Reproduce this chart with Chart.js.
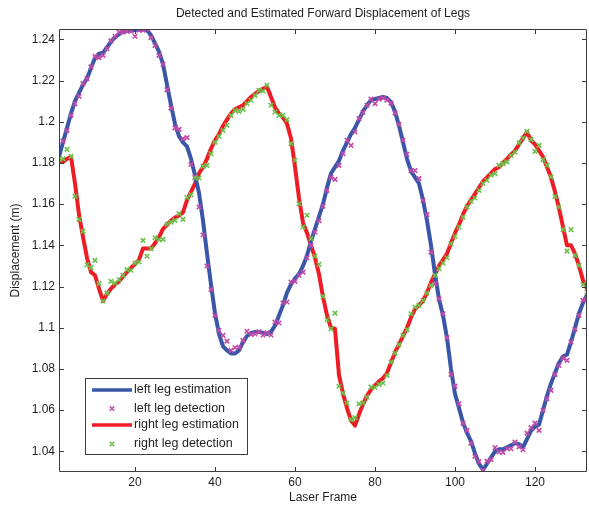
<!DOCTYPE html>
<html>
<head>
<meta charset="utf-8">
<script src="https://cdn.jsdelivr.net/npm/chart.js@4.4.1/dist/chart.umd.min.js"></script>
<style>
  html, body { margin: 0; padding: 0; background: #ffffff; }
  #wrap { width: 589px; height: 506px; }
</style>
</head>
<body>
<div id="wrap"><canvas id="c" width="589" height="506"></canvas></div>
<script>
// ---- data (frame index 1..133) ----
const chartTitle = "Detected and Estimated Forward Displacement of Legs";
const xTitle = "Laser Frame";
const yTitle = "Displacement (m)";
const seriesNames = ["left leg estimation", "left leg detection", "right leg estimation", "right leg detection"];
const xTicks = [20, 40, 60, 80, 100, 120];
const yTicks = [1.04, 1.06, 1.08, 1.1, 1.12, 1.14, 1.16, 1.18, 1.2, 1.22, 1.24];
const firstFrame = 1;

const leftEstimation = [
  1.183,1.190,1.197,1.204,1.210,1.214,1.218,1.221,1.226,1.231,
  1.233,1.2335,1.236,1.239,1.241,1.2425,1.2435,1.244,1.2442,1.2445,
  1.2447,1.2448,1.2445,1.242,1.238,1.234,1.228,1.218,1.208,1.199,
  1.193,1.190,1.188,1.182,1.174,1.1655,1.152,1.136,1.121,1.107,
  1.097,1.091,1.089,1.0875,1.0875,1.089,1.093,1.096,1.0975,1.098,
  1.098,1.0975,1.097,1.098,1.101,1.106,1.111,1.117,1.121,1.124,
  1.126,1.130,1.135,1.142,1.148,1.154,1.160,1.168,1.175,1.178,
  1.181,1.186,1.190,1.194,1.197,1.201,1.205,1.208,1.2105,1.211,
  1.2115,1.212,1.2115,1.2095,1.205,1.198,1.190,1.182,1.176,1.173,
  1.170,1.162,1.152,1.140,1.126,1.114,1.106,1.095,1.080,1.068,
  1.061,1.054,1.049,1.045,1.039,1.034,1.031,1.034,1.037,1.040,
  1.041,1.041,1.042,1.043,1.044,1.0435,1.042,1.046,1.050,1.052,
  1.053,1.060,1.067,1.073,1.078,1.083,1.086,1.087,1.093,1.100,
  1.107,1.112,1.116
];

const leftDetection = [
  null,1.1906,1.1958,1.2031,1.2088,1.2123,1.2185,1.2209,1.2266,1.2317,
  1.2311,1.2322,1.2355,1.2392,1.2415,1.2435,1.2435,1.244,1.244,1.2415,
  1.2444,1.2444,1.245,1.2408,1.237,1.2322,1.2279,1.2156,1.2066,1.197,
  1.1963,1.1918,1.1923,1.1793,1.1732,1.1586,1.145,1.130,1.1185,1.106,
  1.0987,1.0963,1.0935,1.089,1.0903,1.0906,1.0939,1.0983,1.0968,1.097,
  1.098,1.0965,1.0975,1.0965,1.1028,1.1023,1.112,1.1125,1.1222,1.1225,
  1.1254,1.127,1.134,1.140,1.1465,1.152,1.159,1.1667,1.173,1.172,
  1.1788,1.1845,1.191,1.1885,1.195,1.2015,1.2045,1.208,1.211,1.2088,
  1.211,1.2115,1.2105,1.209,1.2043,1.1987,1.191,1.1842,1.1763,1.1763,
  1.1724,1.1618,1.1549,1.1367,1.1214,1.114,1.1068,1.0952,1.0774,1.0717,
  1.0631,1.0537,1.0502,1.044,1.0376,1.0351,1.0308,1.0353,1.036,1.0418,
  1.0397,1.0395,1.0413,1.0413,1.0445,1.0422,1.0408,1.0489,1.0515,1.0537,
  1.0502,1.0599,1.0656,1.0696,1.0774,1.0817,1.0853,1.0842,1.0931,1.0992,
  1.106,1.1133,1.1141
];

const rightEstimation = [
  1.181,1.1805,1.182,1.183,1.170,1.155,1.144,1.134,1.127,1.1255,
  1.119,1.113,1.1165,1.119,1.121,1.1225,1.125,1.127,1.129,1.131,
  1.133,1.1385,1.1385,1.1385,1.141,1.144,1.148,1.150,1.152,1.1535,
  1.1545,1.156,1.162,1.166,1.170,1.175,1.178,1.182,1.187,1.191,
  1.194,1.198,1.201,1.204,1.206,1.207,1.208,1.210,1.212,1.2135,
  1.215,1.216,1.217,1.212,1.207,1.204,1.202,1.199,1.192,1.178,
  1.163,1.151,1.146,1.140,1.134,1.126,1.115,1.106,1.100,1.0995,
  1.077,1.068,1.061,1.055,1.0525,1.058,1.063,1.067,1.070,1.072,
  1.074,1.0755,1.078,1.083,1.088,1.092,1.096,1.100,1.105,1.109,
  1.111,1.113,1.117,1.122,1.126,1.130,1.133,1.136,1.141,1.146,
  1.150,1.155,1.159,1.162,1.165,1.168,1.171,1.173,1.175,1.177,
  1.178,1.180,1.182,1.184,1.186,1.189,1.192,1.195,1.191,1.189,
  1.186,1.183,1.178,1.173,1.166,1.158,1.149,1.140,1.140,1.136,
  1.130,1.123,1.119
];

const rightDetection = [
  1.1817,1.182,1.1866,1.1832,1.1638,1.1526,1.1468,1.1306,1.1292,1.1327,
  1.1214,1.113,1.1168,1.1225,1.1217,1.1233,1.1254,1.1282,1.1279,1.1314,
  1.1319,1.1424,1.1347,1.1384,1.1437,1.1428,1.1429,1.1502,1.1513,1.1521,
  1.1554,1.1526,1.1632,1.1646,1.1727,1.1727,1.1783,1.1788,1.1845,1.1901,
  1.1929,1.1958,1.1983,1.2031,1.2055,1.205,1.206,1.2088,1.2104,1.2128,
  1.2152,1.2149,1.2177,1.208,1.2047,1.2031,1.2031,1.201,1.1894,1.1813,
  1.1602,1.1489,1.1546,1.1433,1.1347,1.1308,1.1152,1.1039,1.0995,1.1071,
  1.0716,1.0683,1.0635,1.0554,1.0564,1.0631,1.0635,1.0664,1.0712,1.071,
  1.0725,1.0732,1.0769,1.0833,1.0877,1.0918,1.0963,1.0991,1.1068,1.1101,
  1.1109,1.1133,1.1168,1.1206,1.1254,1.1287,1.1314,1.134,1.1408,1.1444,
  1.1489,1.1537,1.1586,1.1614,1.163,1.1667,1.17,1.1716,1.174,1.1748,
  1.1789,1.1797,1.1805,1.1837,1.1853,1.1897,1.1921,1.1953,1.1913,1.1856,
  1.1885,1.1816,1.1789,1.1732,1.1638,1.1586,1.1476,1.1372,1.1476,1.1351,
  1.1303,1.121,1.1173
];

// ---- styling ----
const FONT = "'Liberation Sans', Arial, Helvetica, sans-serif";
const BLUE = "#3a56a9";
const RED = "#ee1c25";
const PINK = "#c24aa9";
const GREEN = "#6cc24a";
const AXIS = "#3c3c3c";
const TEXT = "#1e1e1e";

const toPts = arr => arr.map((v, i) => ({ x: firstFrame + i, y: v })).filter(p => p.y !== null);

const axisBox = {
  id: 'axisBox',
  afterDatasetsDraw(chart) {
    const { ctx, chartArea: a, scales } = chart;
    ctx.save();
    ctx.strokeStyle = AXIS;
    ctx.lineWidth = 1;
    ctx.beginPath();
    ctx.rect(Math.round(a.left) + 0.5, Math.round(a.top) + 0.5,
             Math.round(a.right - a.left) - 1, Math.round(a.bottom - a.top) - 1);
    ctx.stroke();
    const tl = 5;
    ctx.beginPath();
    xTicks.forEach(v => {
      const px = Math.round(scales.x.getPixelForValue(v)) + 0.5;
      ctx.moveTo(px, a.bottom); ctx.lineTo(px, a.bottom - tl);
      ctx.moveTo(px, a.top); ctx.lineTo(px, a.top + tl);
    });
    yTicks.forEach(v => {
      const py = Math.round(scales.y.getPixelForValue(v)) + 0.5;
      ctx.moveTo(a.left, py); ctx.lineTo(a.left + tl, py);
      ctx.moveTo(a.right, py); ctx.lineTo(a.right - tl, py);
    });
    ctx.stroke();
    ctx.restore();
  },
  afterDraw(chart) {
    const { ctx, chartArea: a } = chart;
    ctx.save();
    // title
    ctx.fillStyle = TEXT;
    ctx.font = "12px " + FONT;
    ctx.textAlign = 'center';
    ctx.textBaseline = 'middle';
    ctx.fillText(chartTitle, (a.left + a.right) / 2, 14);
    // legend
    const bx = 85.5, by = 378.5, bw = 162, bh = 76;
    ctx.fillStyle = '#ffffff';
    ctx.fillRect(bx, by, bw, bh);
    ctx.strokeStyle = AXIS;
    ctx.lineWidth = 1;
    ctx.strokeRect(bx, by, bw, bh);
    const rows = [390, 408.5, 425, 444];
    const kinds = [
      { type: 'line', color: BLUE }, { type: 'mark', color: PINK },
      { type: 'line', color: RED }, { type: 'mark', color: GREEN }
    ];
    kinds.forEach((k, i) => {
      const y = rows[i];
      if (k.type === 'line') {
        ctx.strokeStyle = k.color;
        ctx.lineWidth = 3.5;
        ctx.beginPath(); ctx.moveTo(92, y); ctx.lineTo(132, y); ctx.stroke();
      } else {
        ctx.strokeStyle = k.color;
        ctx.lineWidth = 1.6;
        const r = 2.2;
        ctx.beginPath();
        ctx.moveTo(112 - r, y - r); ctx.lineTo(112 + r, y + r);
        ctx.moveTo(112 - r, y + r); ctx.lineTo(112 + r, y - r);
        ctx.stroke();
      }
      ctx.fillStyle = TEXT;
      ctx.font = "12.5px " + FONT;
      ctx.textAlign = 'left';
      ctx.textBaseline = 'middle';
      ctx.fillText(seriesNames[i], 134, y);
    });
    ctx.restore();
  }
};

const fmt = v => String(Number(v.toFixed(2)));

new Chart(document.getElementById('c'), {
  type: 'line',
  data: {
    datasets: [
      { label: seriesNames[1], data: toPts(leftDetection), showLine: false,
        pointStyle: 'crossRot', pointRadius: 3.2, pointBorderWidth: 1.6,
        pointBorderColor: PINK, pointBackgroundColor: PINK, borderColor: PINK, order: 1 },
      { label: seriesNames[3], data: toPts(rightDetection), showLine: false,
        pointStyle: 'crossRot', pointRadius: 3.2, pointBorderWidth: 1.6,
        pointBorderColor: GREEN, pointBackgroundColor: GREEN, borderColor: GREEN, order: 0 },
      { label: seriesNames[0], data: toPts(leftEstimation), borderColor: BLUE,
        borderWidth: 4, pointRadius: 0, tension: 0, fill: false, order: 2 },
      { label: seriesNames[2], data: toPts(rightEstimation), borderColor: RED,
        borderWidth: 4, pointRadius: 0, tension: 0, fill: false, order: 3 }
    ]
  },
  options: {
    responsive: false,
    animation: false,
    devicePixelRatio: 1,
    layout: { autoPadding: false, padding: { left: 0, right: 2, top: 29, bottom: 0 } },
    plugins: { legend: { display: false }, title: { display: false }, tooltip: { enabled: false } },
    elements: { line: { borderJoinStyle: 'round', borderCapStyle: 'round' } },
    scales: {
      x: {
        type: 'linear', min: 1, max: 133,
        afterBuildTicks: s => { s.ticks = xTicks.map(v => ({ value: v })); },
        afterFit: s => { s.height = 34; s.paddingLeft = 0; s.paddingRight = 0; },
        grid: { display: false, drawTicks: false },
        border: { display: false },
        ticks: { padding: 3, color: TEXT, font: { family: FONT, size: 12 }, maxRotation: 0, autoSkip: false,
                 callback: v => String(v) },
        title: { display: true, text: xTitle, color: TEXT, font: { family: FONT, size: 12 },
                 padding: { top: 0, bottom: 1 } }
      },
      y: {
        type: 'linear', min: 1.03, max: 1.245,
        afterBuildTicks: s => { s.ticks = yTicks.map(v => ({ value: v })); },
        afterFit: s => { s.width = 59; s.paddingTop = 0; s.paddingBottom = 0; },
        grid: { display: false, drawTicks: false },
        border: { display: false },
        ticks: { padding: 4, color: TEXT, font: { family: FONT, size: 12 }, autoSkip: false,
                 callback: v => fmt(v) },
        title: { display: true, text: yTitle, color: TEXT, font: { family: FONT, size: 12 },
                 padding: { top: 8, bottom: 0 } }
      }
    }
  },
  plugins: [axisBox]
});
</script>
</body>
</html>
